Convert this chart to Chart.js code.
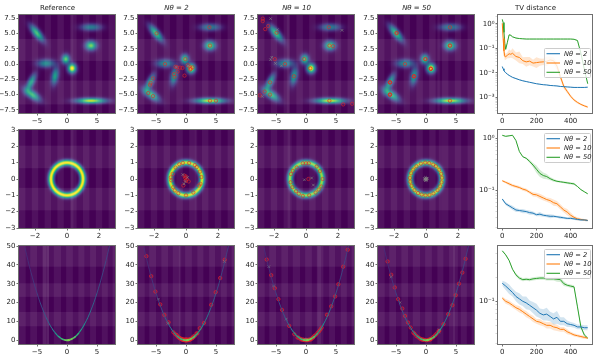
<!DOCTYPE html>
<html><head><meta charset="utf-8">
<script src="https://cdn.jsdelivr.net/npm/chart.js@4"></script>
<style>html,body{margin:0;padding:0;background:#fff;width:600px;height:360px;overflow:hidden}canvas{position:absolute}</style>
</head><body>
<script>
// ---- titles / labels
const columnTitles = ['Reference','Nθ = 2','Nθ = 10','Nθ = 50','TV distance'];
const seriesLabels = ['Nθ = 2','Nθ = 10','Nθ = 50'];
const seriesColors = ['#1f77b4','#ff7f0e','#2ca02c'];

// ---- density of the first row: [x, y, sigmaMajor, sigmaMinor, angleDeg, peak]
const blobs = [
 [-5,5,1.1,.4,-50,.7],[4,6,1.15,.4,0,.42],[4,3,.62,.52,0,.78],[-.2,.8,.44,.52,0,.74],
 [.85,-.7,.47,.52,0,1.02],[-3.5,.1,1.0,.46,0,.48],[-2,-2,.95,.4,80,.56],[-6,-3,1.0,.38,63,.58],
 [-5.8,-5,1.05,.44,-35,.68],[4,-6,1.65,.31,0,.9]];
// ---- density of the second row, per column
const ringRadius = 1.0, ringSigma = .125;
const ringPeak = [1.0,.93,.84,.9];
// ---- density of the third row
const paraX = [-7,-6.5,-6,-5.5,-5,-4.5,-4,-3.5,-3,-2.5,-2,-1.5,-1,-.5,0,.5,1,1.5,2,2.5,3,3.5,4,4.5,5,5.5,6,6.5,7,7.3];
const paraY = [49,42.2,36,30.2,25,20.2,16,12.2,9,6.2,4,2.2,1,.25,0,.25,1,2.2,4,6.2,9,12.2,16,20.2,25,30.2,36,42.2,49,53.3];
const paraI = [.14,.15,.17,.19,.22,.25,.28,.32,.38,.44,.52,.6,.68,.76,.8,.78,.72,.64,.56,.48,.42,.38,.34,.31,.28,.25,.23,.21,.2,.2];
const paraW = [.8,.8,.8,.8,.8,.9,.9,1,1,1.1,1.2,1.4,1.6,1.8,1.9,1.8,1.6,1.4,1.2,1.1,1,1,.9,.9,.8,.8,.8,.8,.8,.8];

// ---- faint plaid of the background, in data units
const darkCols = [
 [[-6.93,-5.87],[-4.8,-3.73],[-2.67,-1.6],[-.53,.53],[1.6,2.67],[3.73,4.8],[5.87,6.93]],
 [[-2.6,-2.2],[-1.8,-1.4],[-1,-.6],[-.2,.2],[.6,1],[1.4,1.8],[2.2,2.6]],
 [[-6.89,-6.12],[-5,-4.1],[-3,-2.2],[-1,-.14],[.97,1.9],[2.9,3.85],[4.84,5.8],[6.8,7.6]]];
const litRows = [
 [[4.1,.5],[-2.7,-6.6]],
 [[2.04,.66],[-.54,-1.92]],
 [[50,39],[30.2,23],[15,7.4]]];
const streaks = [
 [[[.7,1.05]],[],[[-3.2,-2.8]],[[1.9,2.3]]],
 [[[.25,.4]],[[.55,.7]],[[-1.15,-.9]],[[.8,1.0]]],
 [[[-4,-3.5],[-3.4,-3]],[[-1.2,-.8]],[[1.8,2.5]],[[4.5,5.3]]]];

// ---- samples per panel (circles, then crosses)
const s1a = [[-4.9,5],[3.9,6],[4,3],[-.1,.8],[-3.5,0],[-1.75,-.45],[-1.5,-.55],[-.6,-.65],[-1,-.6],[-1.4,-1.25],[-2,-1.65],[-1.9,-2.1],[-.25,-1.9],[.3,-.2],[.6,-.4],[.7,-.9],[1.1,-.55],[.8,-.75],[-5.5,-2.35],[-5.9,-3.1],[-6,-3.4],[-6.3,-4.75],[-5.5,-5.25],[4,-6],[5,-6]];
const s1aX = [[-1.6,-.5],[.35,-.3]];
const s1b = [[-7.2,7.4],[-7.2,7],[-6.3,6.2],[-6.8,5.7],[-4.9,5.1],[3.8,6],[3.9,3],[4.5,2.9],[-.3,.8],[-3.5,0],[.7,-.7],[-2,-2],[-6,-3],[-6.9,-4.5],[-6,-5],[-7.7,-5.1],[3.9,-6],[6.2,-6.6],[7.7,-6.5],[-5.2,.8]];
const s1bX = [[-5.9,7.4],[-4.8,5.6],[6,5.5],[-7.3,-5.3],[-5.7,1.1],[-5.9,.7],[-5.1,.1],[-4.1,-.3]];
const s1c = [[-4.9,5.1],[-4.9,5],[4,6],[4,3],[4,3],[-.1,.8],[-.1,.8],[-3.5,0],[.8,-.8],[.8,-.8],[.8,-.75],[-2,-2],[-2,-2],[-2,-2],[-6,-3],[-6,-3],[-6,-3],[-6,-5],[-6,-5],[-6,-5],[4,-6]];
const s1cX = [];
const s2a = [[-.2,.98],[.2,.98],[-.65,.7],[.67,.73],[-.83,.31],[-.92,-.08],[.96,.12],[-.8,-.5],[.81,-.4],[-.48,-.87],[0,-1],[.46,-.83],[.87,.45],[-.95,.1],[.55,.85],[-.42,.9],[-.7,-.7],[.9,-.3],[-.1,.2],[-.05,.06],[.04,-.04],[.17,-.15],[-.17,-.4],[0,.15],[-.02,-.1]];
const s2aX = [[-.2,.27],[-.05,-.15],[.1,.1],[-.12,-.3]];
const s2b = [[0,.96],[-.2,.96],[.17,.96],[-.58,.7],[-.94,.3],[-.96,-.2],[-.62,-.75],[-.2,-1.04],[.2,-1],[.6,-.83],[.96,-.46],[1.04,0],[.67,.77],[.87,.48],[-.82,.5],[-.85,-.5],[-.45,-.9],[.8,-.65],[.15,0]];
const s2bX = [[-.1,-.05],[.35,.06],[.46,-.37]];
const s2c = [[-.05,1],[.2,.97],[.45,.88],[.62,.78],[.82,.57],[.95,.32],[1,.08],[.97,-.2],[.88,-.45],[.72,-.68],[.47,-.88],[.22,-.98],[-.03,-1],[-.27,-.95],[-.5,-.86],[-.72,-.68],[-.9,-.42],[-.98,-.17],[-1,.07],[-.93,.35],[-.8,.58],[-.6,.78],[-.32,.94]];
const s2cX = [[0,0],[.05,.05],[-.05,0],[.02,-.08],[-.08,-.05],[.08,.02],[-.03,.1],[.05,-.05],[-.1,.03],[.01,.04],[-.04,-.1]];
const s3a = [[-6.6,44.6],[-5.8,34],[-5.1,25.8],[-4.3,19],[-3.6,13.4],[-2.9,9.5],[-2.1,4.2],[-1.55,2.8],[-.7,.7],[-.35,.2],[0,.1],[.35,.2],[.8,.7],[1.2,1.9],[1.75,3.6],[2.3,6.4],[3,9.2],[4.2,18.8],[4.95,25.5],[5.7,33],[6.45,42.7],[-.9,.8],[-.5,.3],[-.2,.05],[.2,.05],[.5,.3],[1,1],[-1.2,1.5],[-.1,.3],[.1,.2],[.6,.2],[-.6,.2],[-1.8,3.2],[-1.4,2],[-1.1,1.2],[-.8,.6],[-.4,.15],[-.15,0],[.15,0],[.4,.15],[.7,.5],[1.1,1.2],[1.4,2],[1.9,3.6],[-.3,.3],[.25,.3],[0,.4],[-.05,0],[.05,0]];
const s3aX = [[-4.6,21.8],[6.4,41.8],[-3,9],[1.5,2.5]];
const s3b = [[-6.55,42.8],[-5.8,34.5],[-5.2,27.6],[-4.6,21.8],[-4,16.1],[-2.8,7.6],[-1.95,3.2],[-1.4,1.4],[-.85,.5],[-.3,.1],[.3,.1],[.85,.5],[1.4,2.3],[1.95,4],[2.6,6.7],[3.5,13.5],[4.2,18],[4.85,23.2],[5.4,29.7],[6.2,39],[6.95,48],[-.5,.2],[0,.2],[.5,.25],[1.1,1.3],[1.7,3],[2.2,4.8],[2.4,5.7],[-1.2,1.3],[-.7,.4],[-.15,.05],[.15,.05],[.7,.4],[1.2,1.5]];
const s3bX = [[-6.2,39],[-5.4,28.8],[-3.3,11.2],[-.2,.5],[.2,.6]];
const s3c = [[-6.4,41.8],[-5.8,34.7],[-5.2,28],[-4.65,21.8],[-3.95,16.8],[-3.5,12.9],[-3,9.4],[-2.55,6.7],[-2.1,4],[-1.6,2.3],[-1,.9],[-.45,.3],[.1,0],[.65,.5],[1.2,1.7],[1.75,3.4],[2.2,5],[2.9,8.5],[3.7,13.8],[4.4,18.6],[4.95,23.9],[5.5,30],[6.05,35.9],[6.6,43.2],[-1.3,1.6],[-.8,.5],[-.2,.1],[.4,.2],[.9,.9],[2.1,4.7],[-1.9,3.4],[-.6,.3],[.7,.4],[1.5,2.5]];
const s3cX = [[-5.8,33.6],[-4.3,20],[2.2,5.5],[2.1,4.3]];
const samples = [[[s1a,s1aX],[s1b,s1bX],[s1c,s1cX]],[[s2a,s2aX],[s2b,s2bX],[s2c,s2cX]],[[s3a,s3aX],[s3b,s3bX],[s3c,s3cX]]];

// ---- TV distance, log10 of the values
const tvXFine = [0,5,10,15,20,30,40,50,60,80,100,120,140,160,180,200,220,240,260,280,300,320,340,360,380,400,420,440,460,480,500];
const tvX = [0,20,40,60,80,100,120,140,160,180,200,220,240,260,280,300,320,340,360,380,400,420,440,460,480,500];
const tv1Blue = [-1.74,-1.83,-1.9,-1.96,-1.99,-2.05,-2.1,-2.14,-2.18,-2.23,-2.28,-2.32,-2.35,-2.38,-2.41,-2.44,-2.46,-2.48,-2.49,-2.51,-2.52,-2.53,-2.55,-2.56,-2.57,-2.58,-2.59,-2.59,-2.59,-2.59,-2.58];
const tv1Orange = [.02,-.6,-1.1,-1.33,-1.34,-1.28,-1.22,-1.24,-1.2,-1.33,-1.37,-1.5,-1.55,-1.52,-1.6,-1.58,-1.56,-1.55,-1.53,-1.47,-1.5,-1.72,-2.15,-2.55,-2.75,-2.95,-3.1,-3.2,-3.28,-3.34,-3.39];
const tv1Green = [.18,.05,-.35,-.8,-1.04,-.75,-.45,-.47,-.53,-.58,-.6,-.61,-.62,-.62,-.62,-.62,-.62,-.62,-.62,-.62,-.62,-.62,-.62,-.62,-.62,-.62,-.63,-.68,-1.2,-1.85,-2.44];
const tv1BlueS = [.02,.02,.02,.02,.02,.02,.02,.02,.02,.02,.02,.02,.015,.015,.015,.015,.015,.015,.015,.015,.015,.015,.015,.015,.015,.015,.015,.015,.015,.015,.015];
const tv1OrangeS = [.1,.2,.2,.15,.12,.12,.18,.14,.2,.16,.24,.14,.2,.17,.14,.22,.15,.13,.2,.14,.14,.15,.12,.1,.08,.06,.05,.05,.04,.04,.04];
const tv1GreenS = [.05,.05,.05,.05,.04,.04,.03,.03,.02,.02,.015,.015,.015,.015,.015,.015,.015,.015,.015,.015,.015,.015,.015,.015,.015,.015,.015,.02,.04,.04,.04];
const tv2Blue = [-1.16,-1.25,-1.29,-1.33,-1.37,-1.38,-1.39,-1.40,-1.42,-1.43,-1.46,-1.45,-1.47,-1.48,-1.49,-1.49,-1.50,-1.51,-1.52,-1.53,-1.53,-1.54,-1.55,-1.56,-1.56,-1.57];
const tv2Orange = [-.81,-.84,-.87,-.90,-.92,-.94,-.97,-.99,-1.03,-1.07,-1.08,-1.11,-1.14,-1.17,-1.19,-1.23,-1.25,-1.31,-1.37,-1.41,-1.47,-1.51,-1.54,-1.55,-1.56,-1.57];
const tv2Green = [.06,.04,.05,.06,-.04,-.25,-.35,-.38,-.44,-.51,-.59,-.67,-.71,-.73,-.77,-.80,-.82,-.83,-.84,-.85,-.86,-.87,-.92,-.98,-1.02,-1.06];
const tv2BlueS = [.02,.03,.03,.04,.04,.03,.04,.03,.04,.03,.03,.04,.03,.03,.04,.03,.02,.03,.02,.02,.02,.02,.02,.02,.02,.02];
const tv2OrangeS = [.02,.02,.03,.03,.03,.03,.03,.03,.03,.04,.04,.05,.05,.04,.05,.06,.05,.05,.05,.06,.05,.03,.03,.02,.02,.02];
const tv2GreenS = [.01,.01,.01,.01,.01,.01,.01,.02,.03,.04,.07,.07,.06,.05,.03,.03,.02,.02,.02,.02,.02,.02,.01,.01,.01,.01];
const tv3Blue = [-.775,-.81,-.85,-.89,-.94,-.97,-1.0,-1.02,-1.05,-1.08,-1.11,-1.15,-1.17,-1.16,-1.19,-1.22,-1.2,-1.25,-1.25,-1.28,-1.29,-1.3,-1.32,-1.32,-1.33,-1.33];
const tv3Orange = [-.96,-1.0,-1.02,-1.05,-1.08,-1.1,-1.13,-1.16,-1.19,-1.22,-1.25,-1.26,-1.28,-1.3,-1.3,-1.32,-1.33,-1.35,-1.35,-1.38,-1.4,-1.42,-1.43,-1.44,-1.45,-1.46];
const tv3Green = [-.37,-.42,-.49,-.6,-.67,-.71,-.73,-.725,-.73,-.72,-.715,-.71,-.71,-.72,-.72,-.72,-.725,-.73,-.78,-.8,-.81,-.82,-1.07,-1.32,-1.42,-1.46];
const tv3BlueS = [.03,.05,.06,.05,.06,.07,.06,.08,.06,.07,.08,.06,.07,.08,.06,.07,.08,.05,.05,.04,.03,.03,.03,.03,.03,.03];
const tv3OrangeS = [.02,.03,.03,.03,.03,.04,.03,.04,.03,.04,.03,.04,.03,.04,.04,.04,.04,.03,.03,.03,.02,.02,.02,.02,.02,.01];
const tv3GreenS = [.01,.01,.01,.01,.02,.02,.02,.02,.02,.02,.02,.02,.02,.02,.02,.02,.03,.03,.03,.02,.02,.02,.02,.02,.02,.01];
const tvPanels = [
 {x:tvXFine, lines:[tv1Blue,tv1Orange,tv1Green], spread:[tv1BlueS,tv1OrangeS,tv1GreenS], min:2.34e-4, max:2.28, majors:[1,.1,.01,.001], labels:{1:'10⁰','0.1':'10⁻¹','0.01':'10⁻²','0.001':'10⁻³'}, legendTop:33},
 {x:tvX, lines:[tv2Blue,tv2Orange,tv2Green], spread:[tv2BlueS,tv2OrangeS,tv2GreenS], min:.0193, max:1.45, majors:[1,.1], labels:{1:'10⁰','0.1':'10⁻¹'}, legendTop:3},
 {x:tvX, lines:[tv3Blue,tv3Orange,tv3Green], spread:[tv3BlueS,tv3OrangeS,tv3GreenS], min:.0293, max:.49, majors:[.1], labels:{'0.1':'10⁻¹'}, legendTop:3}];
const tvXTicks = [0,200,400];

// ---- axes of the density panels
const heatAxes = [
 {x:[-8,8], y:[-8,8], xt:[-5,0,5], yt:[-7.5,-5,-2.5,0,2.5,5,7.5], yfmt:1},
 {x:[-3,3], y:[-3,3], xt:[-2,0,2], yt:[-3,-2,-1,0,1,2,3], yfmt:0},
 {x:[-8,8], y:[-2,50], xt:[-5,0,5], yt:[0,10,20,30,40,50], yfmt:0}];

// ---- page layout in pixels
const colLeft = [19,138,258,378,498], colWidth = [96,96,96,96,94];
const rowTop = [15,130,246], plotH = 98;
const FONT = 'DejaVu Sans', TICK = 7;
const minus = s => String(s).replace('-','−');

const viridis = [[68,1,84],[72,40,120],[62,74,137],[49,104,142],[38,130,142],[31,158,137],[53,183,121],[110,206,88],[181,222,43],[253,231,37]];
function vir(t){ t=Math.max(0,Math.min(1,t))*(viridis.length-1); const i=Math.min(viridis.length-2,Math.floor(t)),f=t-i;
  return viridis[i].map((c,k)=>c+(viridis[i+1][k]-c)*f); }

const heatPlugin = {id:'heat', beforeDatasetsDraw(chart,_,o){
  if(o.row===undefined) return;
  const {ctx,chartArea:a,scales:{x,y}}=chart, W=Math.round(a.right-a.left), H=Math.round(a.bottom-a.top);
  const off=document.createElement('canvas'); off.width=W; off.height=H; const c=off.getContext('2d'); const img=c.createImageData(W,H);
  const rot=blobs.map(b=>[b[0],b[1],b[2],b[3],Math.cos(b[4]*Math.PI/180),Math.sin(b[4]*Math.PI/180),b[5]]);
  for(let j=0;j<H;j++)for(let i=0;i<W;i++){
    const vx=x.getValueForPixel(a.left+i+.5), vy=y.getValueForPixel(a.top+j+.5); let d=0;
    if(o.row===0){ for(const b of rot){const dx=vx-b[0],dy=vy-b[1],u=dx*b[4]+dy*b[5],v=-dx*b[5]+dy*b[4]; d+=b[6]*Math.exp(-.5*(u*u/(b[2]*b[2])+v*v/(b[3]*b[3])));} }
    else if(o.row===1){ const r=Math.hypot(vx,vy)-ringRadius; d=ringPeak[o.col]*Math.exp(-.5*r*r/(ringSigma*ringSigma)); }
    const col=vir(d),p=(j*W+i)*4; img.data[p]=col[0];img.data[p+1]=col[1];img.data[p+2]=col[2];img.data[p+3]=255;
  }
  c.putImageData(img,0,0); ctx.drawImage(off,a.left,a.top);
  ctx.save(); ctx.beginPath(); ctx.rect(a.left,a.top,W,H); ctx.clip();
  // plaid: lighter columns are the gaps between the dark ones
  ctx.fillStyle='rgba(255,255,255,.065)'; let start=x.min;
  for(const d of [...darkCols[o.row],[x.max,x.max]]){ const p0=x.getPixelForValue(start),p1=x.getPixelForValue(d[0]); ctx.fillRect(p0,a.top,p1-p0,H); start=d[1]; }
  ctx.fillStyle='rgba(255,255,255,.075)';
  for(const r of litRows[o.row]){ const p0=y.getPixelForValue(r[0]),p1=y.getPixelForValue(r[1]); ctx.fillRect(a.left,p0,W,p1-p0); }
  ctx.fillStyle='rgba(255,255,255,.06)';
  for(const s of streaks[o.row][o.col]){ const p0=x.getPixelForValue(s[0]),p1=x.getPixelForValue(s[1]); ctx.fillRect(p0,a.top,p1-p0,H); }
  ctx.restore();
}};
const framePlugin = {id:'frame', afterDatasetsDraw(chart,_,o){
  const {ctx,chartArea:a}=chart; ctx.save(); ctx.strokeStyle='#6f6f6f'; ctx.lineWidth=1;
  ctx.strokeRect(a.left-.5,a.top-.5,a.right-a.left+1,a.bottom-a.top+1);
  if(o.legendTop!==undefined){
    const bx=a.left+46.5, by=a.top+o.legendTop+.5, bw=46, bh=29;
    ctx.fillStyle='rgba(255,255,255,.8)'; ctx.strokeStyle='#cccccc'; ctx.beginPath(); ctx.roundRect(bx,by,bw,bh,1); ctx.fill(); ctx.stroke();
    seriesLabels.forEach((t,i)=>{ const ly=by+5.2+i*9.3; ctx.strokeStyle=seriesColors[i]; ctx.lineWidth=1.1;
      ctx.beginPath(); ctx.moveTo(bx+2,ly); ctx.lineTo(bx+15.5,ly); ctx.stroke();
      ctx.fillStyle='#222'; ctx.font=`italic ${TICK-.3}px "${FONT}"`; ctx.textBaseline='middle'; ctx.textAlign='left'; ctx.fillText(t,bx+19.5,ly+.3); });
  }
  ctx.restore();
}};
Chart.register(heatPlugin,framePlugin);

function axisBase(extra){ return Object.assign({
  grid:{drawOnChartArea:false,drawTicks:true,tickLength:2.5,tickColor:'#333',tickWidth:.7},
  border:{display:false}, }, extra); }

function makeChart(row,col,datasets,scales,pluginOpts){
  const top=rowTop[row], left=colLeft[col], w=colWidth[col];
  const cv=document.createElement('canvas'); const padL=19,padT=14,padR=3,padB=16;
  cv.width=w+padL+padR; cv.height=plotH+padT+padB; cv.style.left=(left-padL)+'px'; cv.style.top=(top-padT)+'px'; document.body.appendChild(cv);
  const hasTitle=row===0;
  scales.x.afterFit=s=>{s.height=padB;}; scales.y.afterFit=s=>{s.width=padL;};
  return new Chart(cv,{type:'scatter',data:{datasets},options:{responsive:false,animation:false,devicePixelRatio:1,
    layout:{autoPadding:false,padding:{left:0,right:padR,top:hasTitle?0:padT,bottom:0}},
    plugins:Object.assign({legend:{display:false},tooltip:{enabled:false},
      title:{display:hasTitle,text:columnTitles[col],color:'#222',font:{family:FONT,size:TICK,weight:'normal',lineHeight:1.2,style:(col>0&&col<4)?'italic':'normal'},padding:{top:3,bottom:padT-3-TICK*1.2}}},pluginOpts),
    scales}});
}

function heatPanel(row,col){
  const ax=heatAxes[row], ds=[];
  if(row===2){ ds.push({data:paraX.map((x,i)=>({x,y:paraY[i]})),showLine:true,pointRadius:0,tension:.3,borderWidth:1,
    borderColor:'#21918c',segment:{borderColor:c=>{const v=vir(paraI[c.p0DataIndex]);return `rgb(${v[0]|0},${v[1]|0},${v[2]|0})`;},borderWidth:c=>paraW[c.p0DataIndex]}}); }
  if(col>0){ const [circ,cross]=samples[row][col-1];
    const edge=row===2?'rgba(225,35,45,.72)':'rgba(222,40,45,.65)', face=row===2?'rgba(225,35,45,.28)':'rgba(222,40,45,.08)';
    ds.push({data:cross.map(p=>({x:p[0],y:p[1]})),pointStyle:'crossRot',pointRadius:1.8,borderWidth:.8,borderColor:'rgba(130,130,130,.8)',backgroundColor:'transparent'});
    ds.push({data:circ.map(p=>({x:p[0],y:p[1]})),pointStyle:'circle',pointRadius:1.7,borderWidth:.9,borderColor:edge,backgroundColor:face});
  }
  const fmt=(v,d)=>minus(v.toFixed(d));
  const fixTicks=list=>(s=>{s.ticks=list.map(value=>({value}));});
  makeChart(row,col,ds,{
    x:axisBase({type:'linear',min:ax.x[0],max:ax.x[1],afterBuildTicks:fixTicks(ax.xt),ticks:{autoSkip:false,maxRotation:0,padding:1,color:'#222',font:{family:FONT,size:TICK},callback:v=>fmt(v,0)}}),
    y:axisBase({type:'linear',min:ax.y[0],max:ax.y[1],afterBuildTicks:fixTicks(ax.yt),ticks:{autoSkip:false,padding:1,color:'#222',font:{family:FONT,size:TICK},callback:v=>fmt(v,ax.yfmt)}})
  },{heat:{row,col}});
}

function tvPanel(row){
  const P=tvPanels[row], ds=[];
  P.lines.forEach((L,i)=>{
    const lo=L.map((v,k)=>({x:P.x[k],y:Math.pow(10,v-P.spread[i][k])})), hi=L.map((v,k)=>({x:P.x[k],y:Math.pow(10,v+P.spread[i][k])}));
    const color=seriesColors[i];
    ds.push({data:lo,showLine:true,pointRadius:0,borderWidth:0,fill:false,order:5});
    ds.push({data:hi,showLine:true,pointRadius:0,borderWidth:0,fill:'-1',backgroundColor:color+'33',order:5});
  });
  P.lines.forEach((L,i)=>ds.push({label:seriesLabels[i],data:L.map((v,k)=>({x:P.x[k],y:Math.pow(10,v)})),showLine:true,pointRadius:0,borderWidth:1,borderColor:seriesColors[i],order:i===2?3:(i===1?2:1)}));
  const minors=[]; for(const m of P.majors.concat(P.majors[P.majors.length-1]/10)) for(const k of [2,3,4,5,6,7,8,9]){const v=m*k; if(v>P.min&&v<P.max) minors.push(v);}
  const isMajor=v=>P.labels[String(v)]!==undefined;
  makeChart(row,4,ds,{
    x:axisBase({type:'linear',min:-25,max:525,afterBuildTicks:s=>{s.ticks=tvXTicks.map(value=>({value}));},ticks:{autoSkip:false,maxRotation:0,padding:1,color:'#222',font:{family:FONT,size:TICK},callback:v=>String(v)}}),
    y:axisBase({type:'logarithmic',min:P.min,max:P.max,
      grid:{drawOnChartArea:false,drawTicks:true,tickLength:2.5,tickWidth:.7,tickColor:c=>isMajor(c.tick.value)?'#333':'rgba(90,90,90,.35)'},
      afterBuildTicks:s=>{s.ticks=P.majors.concat(minors).map(value=>({value}));},
      ticks:{autoSkip:false,padding:1,color:'#222',font:{family:FONT,size:TICK},callback:v=>P.labels[String(v)]||''}})
  },{frame:{legendTop:P.legendTop}});
}

for(let r=0;r<3;r++){ for(let c=0;c<4;c++) heatPanel(r,c); tvPanel(r); }
</script>
</body></html>
